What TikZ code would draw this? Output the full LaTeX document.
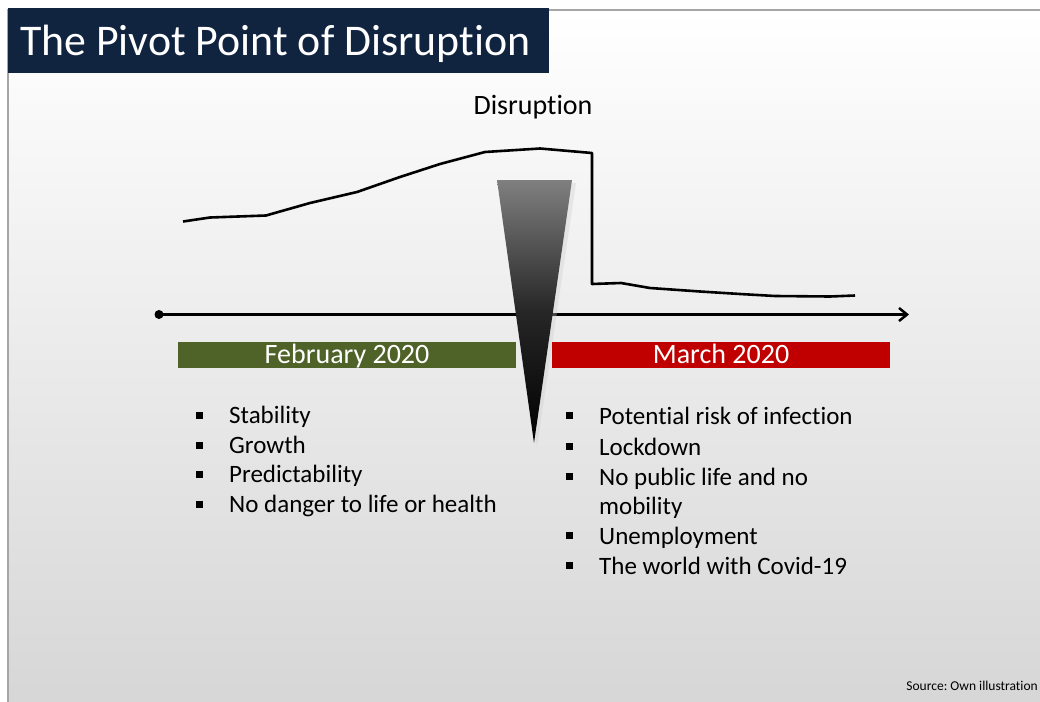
\documentclass[tikz,border=0pt]{standalone}
\usepackage{fontspec}
\setmainfont{Carlito}[RawFeature={-liga;-clig;-dlig}]
\usetikzlibrary{arrows.meta}
\definecolor{navy}{HTML}{10233F}
\definecolor{olivebar}{HTML}{4F6228}
\definecolor{redbar}{HTML}{C00000}
\definecolor{framegray}{HTML}{A6A6A6}
\definecolor{bgbottom}{HTML}{D6D6D6}
\tikzset{
  itemtext/.style={anchor=base west, inner sep=0pt, font=\fontsize{25}{30}\selectfont},
  bulletsq/.style={fill=black, inner sep=0pt, minimum size=7pt},
  barbox/.style={minimum width=338pt, minimum height=26pt, inner sep=0pt, text height=20pt, text depth=4pt,
                 text=white, font=\fontsize{28}{30}\selectfont},
  curveline/.style={line width=2.6pt, line join=round},
}
\frenchspacing
\begin{document}
\begin{tikzpicture}[x=1pt,y=-1pt]
\useasboundingbox (0,0) rectangle (1040,701);
\begin{scope}
\clip (0,0) rectangle (1040,701);
% background panel with gradient
\shade[top color=white, bottom color=bgbottom] (8,10) rectangle (1050,710);
\draw[framegray, line width=2pt] (8,712) -- (8,10) -- (1050,10);
\end{scope}
% title
\fill[navy] (8,8) rectangle (549,73);
\node[text=white, anchor=base west, inner sep=0pt,
      font=\fontsize{43.8}{46}\selectfont] (title) at (20,56) {The Pivot Point of Disruption};
% Disruption label
\node[anchor=base, inner sep=0pt, font=\fontsize{28}{30}\selectfont] (dlabel) at (533,114) {Disruption};
% curve
\draw[curveline] (183,221.5) -- (210,217.5) -- (266,215.5) -- (310,203) -- (357,192) -- (400,177) -- (440,164)
  -- (485,152) -- (540,148.5) -- (592,153) -- (592,284) -- (621,283) -- (650,288) -- (700,291.5)
  -- (740,294) -- (775,296) -- (830,296.5) -- (855,295.5);
% timeline axis
\coordinate (tstart) at (159,314.5);
\coordinate (tend) at (909,314.5);
\fill (tstart) circle (4.5pt);
\draw[line width=2.5pt, -{Straight Barb[length=8pt, width=13pt, line width=2.5pt]}] (tstart) -- (tend);
% wedge
\fill[black!20, opacity=0.35] (500,183) -- (576,183) -- (537,447) -- cycle;
\shade[top color=black!50, bottom color=black, middle color=black!85] (497,180) -- (572,180) -- (534,443) -- cycle;
% bars
\node[barbox, fill=olivebar] (feb) at (347,355) {February 2020};
\node[barbox, fill=redbar] (mar) at (721,355) {March 2020};
% left list
\node[itemtext] (l1) at (229,423.5) {Stability};
\node[itemtext] (l2) at (229,453) {Growth};
\node[itemtext] (l3) at (229,482.5) {Predictability};
\node[itemtext] (l4) at (229,512) {No danger to life or health};
\node[bulletsq] (lb1) at (199.5,415.5) {};
\node[bulletsq] (lb2) at (199.5,445) {};
\node[bulletsq] (lb3) at (199.5,474.5) {};
\node[bulletsq] (lb4) at (199.5,504) {};
% right list
\node[itemtext] (r1) at (599,424.5) {Potential risk of infection};
\node[itemtext] (r2) at (599,455) {Lockdown};
\node[itemtext] (r3) at (599,485) {No public life and no};
\node[itemtext] (r3b) at (599,514.5) {mobility};
\node[itemtext] (r4) at (599,544) {Unemployment};
\node[itemtext] (r5) at (599,574) {The world with Covid-19};
\node[bulletsq] (rb1) at (569.5,415.5) {};
\node[bulletsq] (rb2) at (569.5,446) {};
\node[bulletsq] (rb3) at (569.5,476) {};
\node[bulletsq] (rb4) at (569.5,535.5) {};
\node[bulletsq] (rb5) at (569.5,565.5) {};
% source
\node[anchor=base east, inner sep=0pt, font=\fontsize{13.5}{15}\selectfont] (src) at (1038,690) {Source: Own illustration};
\end{tikzpicture}
\end{document}
